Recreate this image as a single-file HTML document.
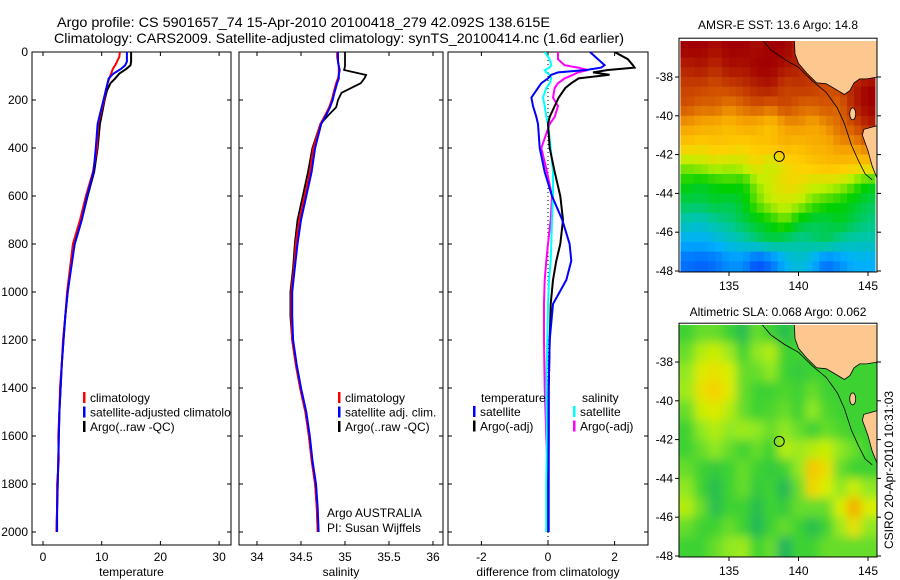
<!DOCTYPE html>
<html><head><meta charset="utf-8"><style>
html,body{margin:0;padding:0;background:#fff;width:900px;height:580px;overflow:hidden}
svg{display:block;font-family:"Liberation Sans",sans-serif}
</style></head><body>
<svg id="fig" width="900" height="580" viewBox="0 0 900 580" xmlns="http://www.w3.org/2000/svg">
<defs>
<clipPath id="cp1"><rect x="32" y="52" width="199" height="493"/></clipPath>
<clipPath id="cp2"><rect x="239" y="52" width="204" height="493"/></clipPath>
<clipPath id="cp3"><rect x="448" y="52" width="200" height="493"/></clipPath>
<clipPath id="cm1"><rect x="679" y="41" width="198" height="231"/></clipPath>
<clipPath id="cm2"><rect x="679" y="325" width="198" height="232"/></clipPath>
<filter id="blur" x="-5%" y="-5%" width="110%" height="110%"><feGaussianBlur stdDeviation="5"/></filter>
</defs>
<text x="57" y="27" font-size="14" textLength="493" lengthAdjust="spacingAndGlyphs">Argo profile: CS 5901657_74 15-Apr-2010 20100418_279 42.092S 138.615E</text>
<text x="54" y="43" font-size="14" textLength="570" lengthAdjust="spacingAndGlyphs">Climatology: CARS2009. Satellite-adjusted climatology: synTS_20100414.nc (1.6d earlier)</text>
<g id="g1"></g>
<g id="g2"></g>
<g id="g3"></g>
<g id="m1"></g>
<g id="m2"></g>
<text x="778" y="29" font-size="12" text-anchor="middle">AMSR-E SST: 13.6 Argo: 14.8</text>
<text x="778" y="316" font-size="12" text-anchor="middle">Altimetric SLA: 0.068 Argo: 0.062</text>
<text x="0" y="0" font-size="12" text-anchor="middle" transform="translate(893,470) rotate(-90)">CSIRO 20-Apr-2010 10:31:03</text>
<text x="327" y="517" font-size="12">Argo AUSTRALIA</text>
<text x="327" y="532" font-size="12">PI: Susan Wijffels</text>
</svg>
<script>
// ---- profile data ----
const depthT = [0,20,40,55,70,90,110,130,160,200,250,300,400,500,600,700,800,900,1000,1100,1200,1300,1400,1500,1600,1700,1800,1900,2000];
const tClim = [13.1,13.0,12.6,12.3,11.9,11.6,11.3,11.0,10.7,10.4,9.9,9.4,9.2,8.5,7.3,6.3,5.1,4.6,4.1,3.8,3.4,3.2,2.9,2.8,2.6,2.7,2.4,2.4,2.3];
const tSat = [14.3,14.3,14.3,14.0,13.3,12.0,11.2,11.0,10.7,10.3,9.8,9.3,9.0,8.6,7.5,6.6,5.4,4.8,4.2,3.8,3.5,3.2,3.0,2.8,2.7,2.6,2.5,2.4,2.4];
const tArgo = [15.0,15.0,15.0,14.9,14.2,13.0,12.3,11.5,10.9,10.5,10.1,9.7,9.3,8.7,7.6,6.6,5.4,4.7,4.2,3.8,3.5,3.2,3.0,2.8,2.7,2.6,2.5,2.4,2.3];
const depthS = [0,20,40,60,75,96,110,130,170,200,230,260,300,400,500,600,700,800,900,1000,1100,1200,1300,1400,1500,1600,1700,1800,1900,2000];
const sClim = [34.91,34.91,34.92,34.93,34.93,34.93,34.92,34.9,34.87,34.85,34.82,34.78,34.72,34.64,34.6,34.54,34.48,34.44,34.42,34.39,34.39,34.4,34.44,34.49,34.55,34.59,34.62,34.66,34.68,34.69];
const sSat = [34.92,34.92,34.92,34.93,34.94,34.93,34.93,34.91,34.88,34.86,34.83,34.79,34.73,34.66,34.62,34.56,34.5,34.46,34.43,34.4,34.4,34.41,34.45,34.5,34.56,34.6,34.63,34.67,34.69,34.7];
const sArgo = [35.0,35.0,35.0,35.0,34.99,35.24,35.22,35.18,34.96,34.92,34.9,34.82,34.72,34.63,34.58,34.52,34.46,34.43,34.41,34.38,34.38,34.40,34.44,34.49,34.55,34.59,34.62,34.66,34.68,34.69];
const depthD = [0,30,55,65,75,85,95,110,130,150,190,225,270,300,400,500,600,700,800,870,950,1050,1200,1400,1600,1800,2000];
const dTsat = [1.26,1.5,1.7,1.6,1.15,0.3,0.1,0.0,-0.2,-0.3,-0.5,-0.45,-0.35,-0.3,-0.25,-0.1,0.12,0.43,0.65,0.7,0.55,0.15,0.05,0.02,0.02,0.02,0.02];
const dTargo = [2.0,2.4,2.55,2.6,1.8,1.35,1.85,0.92,0.7,0.52,0.32,0.2,0.05,0.0,0.05,0.2,0.37,0.45,0.37,0.25,0.15,0.08,0.05,0.02,0.02,0.01,0.01];
const dSsat = [-0.1,0.05,0.1,0.05,-0.1,-0.05,0.05,0.1,0.05,-0.05,-0.15,-0.1,-0.05,0.0,0.08,0.15,0.15,0.12,0.1,0.08,0.03,0.0,-0.02,-0.05,-0.03,-0.05,-0.05];
const dSargo = [0.3,0.3,0.5,0.9,1.2,0.9,0.75,0.5,0.3,0.2,0.15,0.3,0.2,0.05,-0.2,-0.03,0.12,0.08,0.0,-0.05,-0.1,-0.12,-0.12,-0.1,-0.05,0.0,0.0];
const depthTicks = [0,200,400,600,800,1000,1200,1400,1600,1800,2000];
const tTicks = [0,10,20,30];
const sTicks = [34,34.5,35,35.5,36];
const sTickLabels = ["34","34.5","35","35.5","36"];
const dTicks = [-2,0,2];
// ---- map data ----
const sstGrid = [
[1.0,1.0,0.98,1.0,1.0,0.98,1.0,1.0,0.95,0.9,0.9,0.9,0.9,0.9],
[0.95,0.97,0.93,0.98,0.97,1.0,1.0,0.97,0.95,0.9,0.9,0.85,0.9,0.9],
[0.9,0.9,0.88,0.9,0.92,0.95,0.97,0.9,0.92,0.92,0.88,0.9,0.95,1.0],
[0.88,0.85,0.86,0.82,0.85,0.88,0.85,0.9,0.86,0.85,0.88,0.85,0.95,1.0],
[0.78,0.76,0.75,0.72,0.76,0.75,0.7,0.78,0.8,0.76,0.8,0.85,0.88,0.95],
[0.7,0.68,0.7,0.7,0.68,0.7,0.72,0.74,0.72,0.75,0.75,0.8,0.8,0.85],
[0.58,0.6,0.62,0.6,0.62,0.66,0.6,0.65,0.68,0.7,0.72,0.72,0.7,0.7],
[0.5,0.48,0.5,0.52,0.5,0.58,0.62,0.66,0.66,0.62,0.62,0.6,0.55,0.5],
[0.45,0.45,0.47,0.45,0.48,0.55,0.6,0.62,0.6,0.55,0.52,0.5,0.48,0.45],
[0.38,0.36,0.4,0.42,0.45,0.48,0.5,0.55,0.48,0.45,0.45,0.48,0.45,0.42],
[0.3,0.3,0.32,0.35,0.38,0.42,0.45,0.42,0.4,0.42,0.45,0.4,0.38,0.38],
[0.2,0.18,0.2,0.25,0.25,0.15,0.2,0.3,0.35,0.3,0.2,0.25,0.3,0.3]];
const slaGrid = [
[.5,.55,.55,.5,.45,.55,.5,.45,.5,.5,.5,.5,.5,.5],
[.55,.65,.68,.62,.5,.6,.65,.5,.5,.5,.5,.5,.5,.5],
[.6,.72,.75,.7,.55,.55,.6,.5,.48,.5,.5,.5,.5,.5],
[.62,.75,.8,.72,.55,.5,.5,.52,.5,.55,.5,.5,.5,.5],
[.55,.68,.72,.65,.55,.5,.52,.55,.5,.6,.52,.5,.5,.5],
[.5,.6,.65,.6,.62,.6,.55,.6,.55,.5,.55,.52,.5,.5],
[.5,.55,.6,.55,.5,.55,.5,.65,.62,.65,.68,.6,.55,.5],
[.55,.5,.48,.5,.55,.5,.48,.5,.6,.82,.75,.55,.5,.5],
[.6,.5,.45,.5,.55,.48,.5,.42,.55,.78,.7,.6,.68,.6],
[.65,.55,.45,.5,.5,.45,.5,.48,.55,.55,.55,.7,.88,.7],
[.55,.5,.5,.55,.5,.42,.5,.55,.5,.45,.5,.62,.75,.6],
[.5,.5,.55,.6,.62,.5,.55,.4,.5,.5,.55,.55,.55,.55]];
const lonTicks = [135,140,145];
const latTicks = [-38,-40,-42,-44,-46,-48];
const argoLon = 138.615, argoLat = -42.092;
const landMain = [[139.7,-36.0],[139.75,-36.8],[140.0,-37.3],[140.6,-37.8],[141.3,-38.3],[142.0,-38.35],[142.6,-38.6],[143.3,-38.9],[143.7,-38.7],[144.0,-38.3],[144.4,-38.1],[144.9,-38.1],[145.7,-38.0],[145.7,-36.0]];
const landTas = [[145.7,-40.5],[144.7,-40.7],[144.6,-41.0],[145.0,-41.8],[145.3,-42.6],[145.7,-43.3]];
const isobath = [[137.3,-36.0],[138.0,-36.6],[139.0,-37.1],[140.0,-37.5],[141.0,-38.2],[142.0,-38.8],[142.8,-39.6],[143.3,-40.4],[143.8,-41.5],[144.3,-42.3],[144.8,-43.0],[145.3,-43.3]];

const NS = "http://www.w3.org/2000/svg";
function mk(tag, attrs, parent){const e=document.createElementNS(NS,tag);for(const k in attrs)e.setAttribute(k,attrs[k]);parent.appendChild(e);return e;}
const yD = d => 52 + d*0.24;

function panel(g, x0, x1, clipId, xs, xticks, xlabels, xtitle, showY){
  const r = mk('rect',{x:x0,y:52,width:x1-x0,height:493,fill:'none',stroke:'#000','stroke-width':1},g);
  
  
  depthTicks.forEach(d=>{
    const y=yD(d);
    const t1=mk('line',{x1:x0,x2:x0+4,y1:y,y2:y,stroke:'#000'},g);
    
    
    const t2=mk('line',{x1:x1-4,x2:x1,y1:y,y2:y,stroke:'#000'},g);
    
    
    if(showY){const t=mk('text',{x:x0-4,y:y+4,'font-size':12,'text-anchor':'end'},g);t.textContent=d;
      
      }
  });
  xticks.forEach((v,i)=>{
    const x=xs(v);
    const a=mk('line',{x1:x,x2:x,y1:545,y2:541,stroke:'#000'},g);
    
    
    const b=mk('line',{x1:x,x2:x,y1:52,y2:56,stroke:'#000'},g);
    
    
    const t=mk('text',{x:x,y:561,'font-size':12,'text-anchor':'middle'},g);t.textContent=xlabels[i];
    
    
  });
  const tt=mk('text',{x:(x0+x1)/2,y:576,'font-size':12,'text-anchor':'middle'},g);tt.textContent=xtitle;
  
  
}
function series(g, clipId, xs, vals, depths, color, w, name){
  const pts = vals.map((v,i)=>xs(v).toFixed(1)+','+yD(depths[i]).toFixed(1)).join(' ');
  const p=mk('polyline',{points:pts,fill:'none',stroke:color,'stroke-width':w,'clip-path':'url(#'+clipId+')'},g);
  
  
}
function legend(g, x, y, items){
  items.forEach((it,i)=>{
    const yy=y+i*14.5;
    const b=mk('rect',{x:x,y:yy-6,width:2.5,height:11,fill:it[1]},g);
    
    
    const t=mk('text',{x:x+7,y:yy+4,'font-size':12},g);t.textContent=it[0];
    
    
  });
}
// panel 1
const g1=document.getElementById('g1');
const xT=v=>43+v*5.87;
panel(g1,32,231,'cp1',xT,tTicks,tTicks.map(String),'temperature',true);
series(g1,'cp1',xT,tArgo,depthT,'#000',2,'argo-temperature-line');
series(g1,'cp1',xT,tClim,depthT,'#f00',2,'climatology-temperature-line');
series(g1,'cp1',xT,tSat,depthT,'#00f',2,'satellite-temperature-line');
const lg1=mk('g',{'clip-path':'url(#cp1)'},g1);
legend(lg1,83,398,[['climatology','#f00'],['satellite-adjusted climatology','#00f'],['Argo(..raw -QC)','#000']]);
// panel 2
const g2=document.getElementById('g2');
const xS=v=>257+(v-34)*88;
panel(g2,239,443,'cp2',xS,sTicks,sTickLabels,'salinity',false);
series(g2,'cp2',xS,sArgo,depthS,'#000',1.8,'argo-salinity-line');
series(g2,'cp2',xS,sClim,depthS,'#f00',2,'climatology-salinity-line');
series(g2,'cp2',xS,sSat,depthS,'#00f',2,'satellite-salinity-line');
legend(g2,338,398,[['climatology','#f00'],['satellite adj. clim.','#00f'],['Argo(..raw -QC)','#000']]);
// panel 3
const g3=document.getElementById('g3');
const xDf=v=>548+v*33.3;
panel(g3,448,648,'cp3',xDf,dTicks,dTicks.map(String),'difference from climatology',false);
const zl=mk('line',{x1:xDf(0),x2:xDf(0),y1:52,y2:545,stroke:'#000','stroke-dasharray':'1,3'},g3);


series(g3,'cp3',xDf,dSargo,depthD,'#f0f',2,'argo-salinity-diff-line');
series(g3,'cp3',xDf,dSsat,depthD,'#0ff',2,'satellite-salinity-diff-line');
series(g3,'cp3',xDf,dTargo,depthD,'#000',2,'argo-temperature-diff-line');
series(g3,'cp3',xDf,dTsat,depthD,'#00f',2,'satellite-temperature-diff-line');
const th=mk('text',{x:481,y:402,'font-size':12},g3);th.textContent='temperature';


const sh=mk('text',{x:582,y:402,'font-size':12},g3);sh.textContent='salinity';


legend(g3,473,412,[['satellite','#00f'],['Argo(-adj)','#000']]);
legend(g3,573,412,[['satellite','#0ff'],['Argo(-adj)','#f0f']]);

// ---- maps ----
function cmap(stops,v){
  for(let i=1;i<stops.length;i++){ if(v<=stops[i][0]){const a=stops[i-1],b=stops[i];const t=(v-a[0])/(b[0]-a[0]);
    const c=[0,1,2].map(k=>Math.round(a[1][k]+(b[1][k]-a[1][k])*t));return 'rgb('+c.join(',')+')';}}
  const l=stops[stops.length-1][1];return 'rgb('+l.join(',')+')';
}
const sstStops=[[0,[0,0,140]],[0.15,[0,80,255]],[0.3,[0,176,255]],[0.4,[0,200,160]],[0.5,[0,208,0]],[0.6,[192,240,0]],[0.68,[255,208,0]],[0.78,[245,160,0]],[0.88,[208,80,0]],[1,[160,0,0]]];
const slaStops=[[0.35,[16,170,110]],[0.45,[40,190,80]],[0.5,[60,210,50]],[0.6,[144,232,32]],[0.7,[216,240,0]],[0.8,[248,208,0]],[0.9,[245,160,0]]];
function sample(grid,r,c){
  const R=grid.length-1,C=grid[0].length-1;
  r=Math.max(0,Math.min(R,r));c=Math.max(0,Math.min(C,c));
  const r0=Math.floor(r),c0=Math.floor(c),r1=Math.min(R,r0+1),c1=Math.min(C,c0+1);
  const fr=r-r0,fc=c-c0;
  return grid[r0][c0]*(1-fr)*(1-fc)+grid[r0][c1]*(1-fr)*fc+grid[r1][c0]*fr*(1-fc)+grid[r1][c1]*fr*fc;
}
function drawMap(id, clip, y38, grid, stops, blur){
  const g=document.getElementById(id);
  const X=lon=>729+(lon-135)*13.9, Y=lat=>y38+(-38-lat)*19.4;
  const top=Y(-36.0);
  const cells=mk('g',{'clip-path':'url(#'+clip+')'},g);
  const inner=mk('g',blur?{filter:'url(#blur)'}:{},cells);
  if(blur){
    grid.forEach((row,r)=>row.forEach((v,c)=>{
      const lon0=131.5+c, lat0=-36.0-r;
      const x=X(lon0), y=Y(lat0);
      const ex=(c===0?-10:0), ew=(c===row.length-1?12:0);
      const ey=(r===0?-10:0), eh=(r===grid.length-1?12:0);
      const rc=mk('rect',{x:(x+ex).toFixed(1),y:(y+ey).toFixed(1),width:(13.9-ex+ew+0.6).toFixed(1),height:(19.4-ey+eh+0.6).toFixed(1),fill:cmap(stops,v)},inner);
      
      
    }));
  } else {
    const sub=2, nr=grid.length*sub, nc=grid[0].length*sub;
    for(let i=0;i<nr;i++)for(let j=0;j<nc;j++){
      const v=sample(grid,(i+0.5)/sub-0.5,(j+0.5)/sub-0.5);
      const lon0=131.5+j/sub, lat0=-36.0-i/sub;
      const rc=mk('rect',{x:X(lon0).toFixed(1),y:Y(lat0).toFixed(1),width:(13.9/sub+0.6).toFixed(1),height:(19.4/sub+0.6).toFixed(1),fill:cmap(stops,v)},inner);
      
      
    }
  }
  const toPts=a=>a.map(p=>X(p[0]).toFixed(1)+','+Y(p[1]).toFixed(1)).join(' ');
  const iso=mk('polyline',{points:toPts(isobath),fill:'none',stroke:'#000','stroke-width':0.8},cells);
  
  
  const l1=mk('polygon',{points:toPts(landMain),fill:'#fcc890',stroke:'#000','stroke-width':0.8},cells);
  
  
  const l2=mk('polygon',{points:toPts(landTas.concat([[145.7,-43.3]])),fill:'#fcc890',stroke:'#000','stroke-width':0.8},cells);
  
  
  const ki=mk('ellipse',{cx:X(143.9),cy:Y(-39.9),rx:3,ry:6,fill:'#fcc890',stroke:'#000','stroke-width':0.8},cells);
  
  
  const ci=mk('circle',{cx:X(argoLon),cy:Y(argoLat),r:5,fill:'none',stroke:'#000','stroke-width':1},g);
  
  
  const fr=mk('rect',{x:679,y:top,width:198,height:Y(-48.05)-top,fill:'none',stroke:'#000'},g);
  
  
  latTicks.forEach(l=>{
    const y=Y(l);
    const a=mk('line',{x1:675,x2:679,y1:y,y2:y,stroke:'#000'},g);
    
    
    const b=mk('line',{x1:877,x2:881,y1:y,y2:y,stroke:'#000'},g);
    
    
    const t=mk('text',{x:673,y:y+4,'font-size':12,'text-anchor':'end'},g);t.textContent=l;
    
    
  });
  const bottom=Y(-48.05);
  lonTicks.forEach(l=>{
    const x=X(l);
    const a=mk('line',{x1:x,x2:x,y1:bottom,y2:bottom+4,stroke:'#000'},g);
    
    
    const t=mk('text',{x:x,y:bottom+18,'font-size':12,'text-anchor':'middle'},g);t.textContent=l;
    
    
  });
}
drawMap('m1','cm1',77,sstGrid,sstStops,false);
drawMap('m2','cm2',362,slaGrid,slaStops,true);
</script>
</body></html>
